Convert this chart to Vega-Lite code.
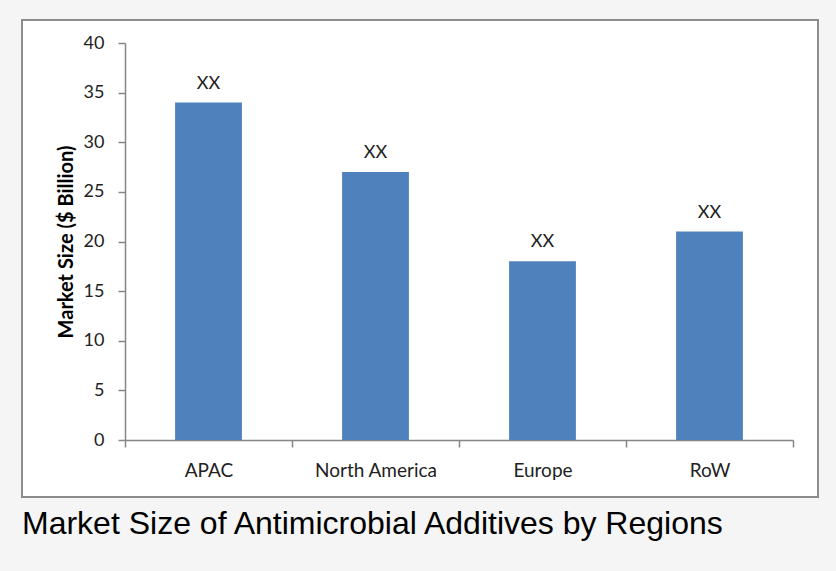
{
  "$schema": "https://vega.github.io/schema/vega-lite/v6.json",
  "width": 796,
  "height": 477,
  "padding": {"left": 22, "top": 20, "right": 18, "bottom": 40},
  "background": "#f5f5f5",
  "title": {
    "text": "Market Size of Antimicrobial Additives by Regions",
    "orient": "bottom",
    "anchor": "start",
    "frame": "group",
    "font": "Liberation Sans",
    "fontSize": 32,
    "fontWeight": "normal",
    "color": "#000000",
    "offset": 12
  },
  "config": {
    "view": {"fill": "#ffffff", "stroke": "#8c8c8c", "strokeWidth": 2}
  },
  "data": {
    "values": [
      {"region": "APAC", "value": 34, "label": "XX"},
      {"region": "North America", "value": 27, "label": "XX"},
      {"region": "Europe", "value": 18, "label": "XX"},
      {"region": "RoW", "value": 21, "label": "XX"}
    ]
  },
  "encoding": {
    "x": {
      "field": "region",
      "type": "nominal",
      "sort": null,
      "scale": {"range": [103, 771], "paddingInner": 0, "paddingOuter": 0},
      "axis": {
        "title": null,
        "offset": -57,
        "tickBand": "extent",
        "labelAngle": 0,
        "domainColor": "#868686",
        "domainWidth": 1.5,
        "tickColor": "#868686",
        "tickWidth": 1.5,
        "tickSize": 7,
        "labelPadding": 14,
        "labelFont": "Lato",
        "labelFontSize": 19,
        "labelColor": "#222222"
      }
    },
    "y": {
      "field": "value",
      "type": "quantitative",
      "scale": {"domain": [0, 40], "range": [420, 23], "nice": false},
      "axis": {
        "title": "Market Size ($ Billion)",
        "values": [0, 5, 10, 15, 20, 25, 30, 35, 40],
        "offset": -103,
        "grid": false,
        "domainColor": "#868686",
        "domainWidth": 1.5,
        "tickColor": "#868686",
        "tickWidth": 1.5,
        "tickSize": 7,
        "labelPadding": 14,
        "labelFont": "Lato",
        "labelFontSize": 18,
        "labelColor": "#222222",
        "titleFont": "Lato",
        "titleFontSize": 20,
        "titleFontWeight": "bold",
        "titleColor": "#000000",
        "titlePadding": 7
      }
    }
  },
  "layer": [
    {"mark": {"type": "bar", "color": "#4f81bd", "width": {"band": 0.4}}},
    {
      "mark": {"type": "text", "dy": -14, "baseline": "alphabetic", "font": "Lato", "fontSize": 18, "color": "#222222"},
      "encoding": {"text": {"field": "label"}}
    }
  ]
}
